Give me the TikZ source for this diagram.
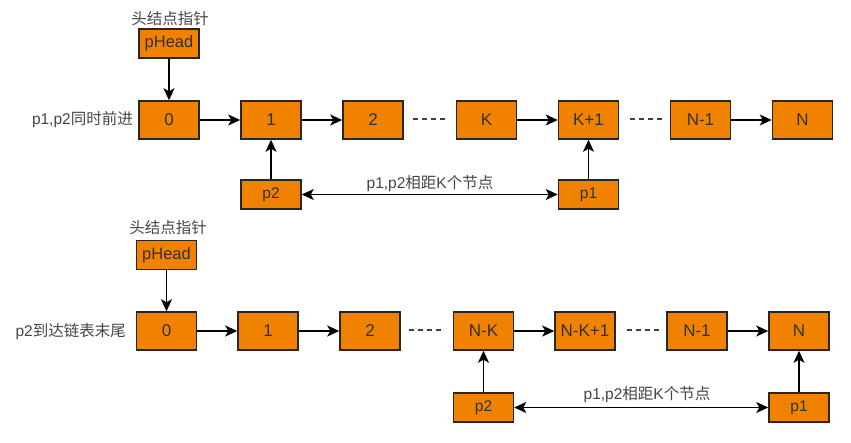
\documentclass[tikz,border=0pt]{standalone}
\usepackage{fontspec}
\setmainfont{Liberation Sans}
\newfontfamily\cjk{Noto Sans CJK SC}
\usetikzlibrary{arrows.meta}
\definecolor{boxorange}{RGB}{240,130,0}
\definecolor{txtgray}{RGB}{50,50,50}
\definecolor{lblgray}{RGB}{70,70,70}
\begin{document}
\begin{tikzpicture}[x=1pt,y=-1pt,
  nodebox/.style={draw=black!85,fill=boxorange,line width=1.5pt,minimum width=60pt,minimum height=38pt,inner sep=0pt,font=\fontsize{17}{17}\selectfont,text=txtgray},
  headbox/.style={nodebox,minimum height=29pt,font=\fontsize{16.5}{16.5}\selectfont},
  ptrbox/.style={nodebox,minimum height=29pt,font=\fontsize{15.5}{15.5}\selectfont},
  lbl/.style={font=\fontsize{15.5}{15.5}\selectfont,text=lblgray,inner sep=0pt},
  arr/.style={line width=1.5pt,-{Stealth[length=12pt,width=11pt,inset=3pt]}},
  darr/.style={line width=1.5pt,{Stealth[length=12pt,width=11pt,inset=3pt]}-{Stealth[length=12pt,width=11pt,inset=3pt]}},
  dots/.style={line width=1.2pt,draw=black!75,dash pattern=on 5pt off 4pt}]
\fill[white] (0,0) rectangle (851,442);
\useasboundingbox (0,0) rectangle (851,442);
% ---- top ----
\node[lbl] (hl1) at (170,19) {\cjk 头结点指针};
\node[headbox] (ph1) at (169,43.5) {pHead};
\node[nodebox] (a0) at (169,120) {0};
\node[nodebox] (a1) at (271,120) {1};
\node[nodebox] (a2) at (373,120) {2};
\node[nodebox] (aK) at (486.5,120) {K};
\node[nodebox] (aK1) at (588.5,120) {K+1};
\node[nodebox] (aN1) at (700.5,120) {N-1};
\node[nodebox] (aN) at (802.5,120) {N};
\node[ptrbox] (ap2) at (271,194.5) {p2};
\node[ptrbox] (ap1) at (588.5,194.5) {p1};
\node[lbl,anchor=east] (al) at (133,120) {p1,p2{\cjk 同时前进}};
\node[lbl] (ad) at (430,184) {p1,p2{\cjk 相距}K{\cjk 个节点}};
\draw[arr] (ph1) -- (a0);
\draw[arr] (a0) -- (a1);
\draw[arr] (a1) -- (a2);
\draw[arr] (aK) -- (aK1);
\draw[arr] (aN1) -- (aN);
\draw[arr] (ap2) -- (a1);
\draw[arr] (ap1) -- (aK1);
\draw[darr] (ap2.east) -- (ap1.west);
\coordinate (ad1s) at (413,119); \coordinate (ad1e) at (446,119);
\coordinate (ad2s) at (630,119); \coordinate (ad2e) at (663,119);
\draw[dots] (ad1s) -- (ad1e);
\draw[dots] (ad2s) -- (ad2e);
% ---- bottom ----
\node[lbl] (hl2) at (168,228) {\cjk 头结点指针};
\node[headbox] (ph2) at (166.5,255) {pHead};
\node[nodebox] (b0) at (166.5,331) {0};
\node[nodebox] (b1) at (268,331) {1};
\node[nodebox] (b2) at (370,331) {2};
\node[nodebox] (bK) at (483.5,331) {N-K};
\node[nodebox] (bK1) at (585,331) {N-K+1};
\node[nodebox] (bN1) at (697,331) {N-1};
\node[nodebox] (bN) at (799,331) {N};
\node[ptrbox] (bp2) at (483.5,407.5) {p2};
\node[ptrbox] (bp1) at (799,407.5) {p1};
\node[lbl,anchor=east] (bl) at (126,332) {p2{\cjk 到达链表末尾}};
\node[lbl] (bd) at (647,395) {p1,p2{\cjk 相距}K{\cjk 个节点}};
\draw[arr] (ph2) -- (b0);
\draw[arr] (b0) -- (b1);
\draw[arr] (b1) -- (b2);
\draw[arr] (bK) -- (bK1);
\draw[arr] (bN1) -- (bN);
\draw[arr] (bp2) -- (bK);
\draw[arr] (bp1) -- (bN);
\draw[darr] (bp2.east) -- (bp1.west);
\coordinate (bd1s) at (409,330); \coordinate (bd1e) at (442,330);
\coordinate (bd2s) at (627,330); \coordinate (bd2e) at (660,330);
\draw[dots] (bd1s) -- (bd1e);
\draw[dots] (bd2s) -- (bd2e);
\end{tikzpicture}
\end{document}
